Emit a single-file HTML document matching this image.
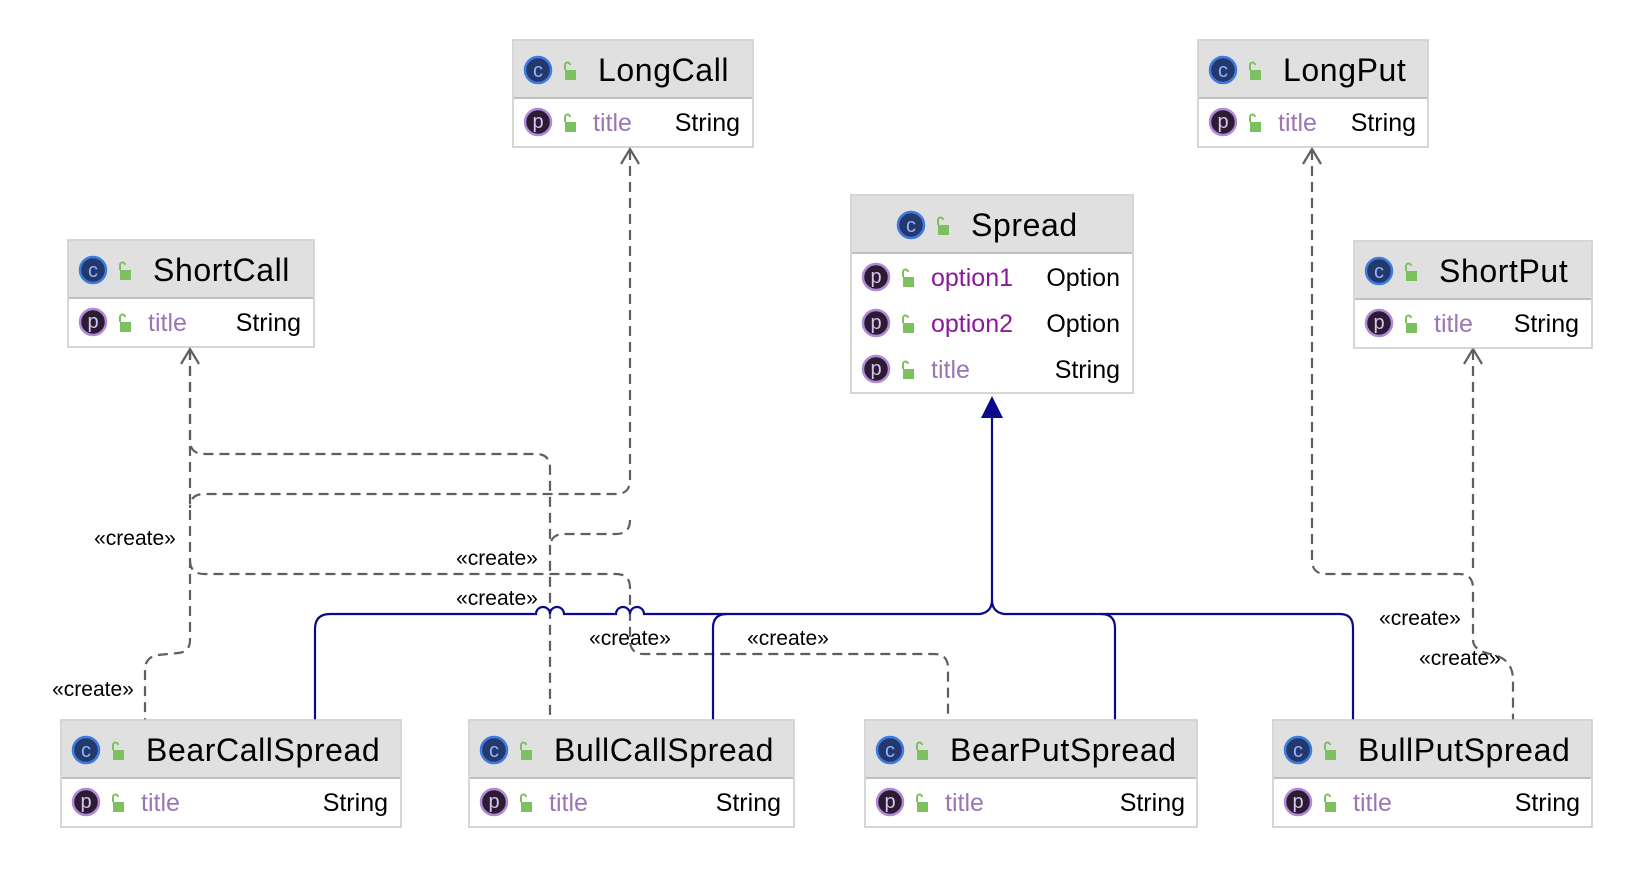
<!DOCTYPE html>
<html><head><meta charset="utf-8"><style>
html,body{margin:0;padding:0;background:#fff;}
svg{display:block;font-family:"Liberation Sans","DejaVu Sans",sans-serif;}
.hdr{font-size:32px;fill:#000;letter-spacing:0.6px;}
.fn{font-size:25px;fill:#9a76b3;}
.fo{font-size:25px;fill:#8b1a9b;}
.ty{font-size:25px;fill:#000;}
.cr{font-size:21px;fill:#000;}
.d{fill:none;stroke:#5f5f5f;stroke-width:2.2;stroke-dasharray:10 6;}
.b{fill:none;stroke:#0a0a8c;stroke-width:2.2;}
</style></head><body>
<svg width="1630" height="874" viewBox="0 0 1630 874" xmlns="http://www.w3.org/2000/svg">
<defs>
<g id="ci"><circle r="13" fill="#24386b" stroke="#3d7be0" stroke-width="2.5"/><text x="0" y="7" text-anchor="middle" font-size="20" fill="#8fb4ff">c</text></g>
<g id="pi"><circle r="13" fill="#2c1c33" stroke="#b08ad8" stroke-width="2.5"/><text x="0" y="6" text-anchor="middle" font-size="20" fill="#d8c3ef">p</text></g>
<g id="lk"><rect x="-3" y="-2" width="11" height="10" fill="#7cc05f"/><path d="M-3,-2 v-5 a2.5,2.5 0 0 1 5,0" fill="none" stroke="#7cc05f" stroke-width="2"/></g>
</defs>

<g class="d">
<path d="M190,350 V440 Q190,454 204,454 H536 Q550,454 550,468 V720"/>
<path d="M630,150 V480 Q630,494 616,494 H204 Q190,494 190,508"/>
<path d="M630,520 Q630,534 616,534 H564 Q550,534 550,548"/>
<path d="M190,560 Q190,574 204,574 H616 Q630,574 630,588 V640 Q630,654 644,654 H934 Q948,654 948,668 V720"/>
<path d="M190,350 V640 Q190,652 178,653 L158,655 Q145,657 145,670 V720"/>
<path d="M1312,150 V560 Q1312,574 1326,574 H1459 Q1473,574 1473,588 V640 Q1473,650 1490,654 Q1513,658 1513,680 V720"/>
<path d="M1473,350 V574"/>
</g>
<g fill="none" stroke="#5f5f5f" stroke-width="2.2">
<path d="M181,364 L190,349 L199,364"/>
<path d="M621,164 L630,149 L639,164"/>
<path d="M1303,164 L1312,149 L1321,164"/>
<path d="M1464,364 L1473,349 L1482,364"/>
</g>

<g class="b">
<path d="M992,412 V600 Q992,612 980,614 H644 A7,7 0 0 0 630,614 A7,7 0 0 0 616,614 H564 A7,7 0 0 0 550,614 A7,7 0 0 0 536,614 H330 Q315,614 315,629 V720"/>
<path d="M992,600 Q992,612 1004,614 H1340 Q1353,614 1353,628 V720"/>
<path d="M727,614 Q713,614 713,628 V720"/>
<path d="M1101,614 Q1115,614 1115,628 V720"/>
</g>
<path d="M981,418 L992,396 L1003,418 Z" fill="#0a0a8c"/>

<g class="cr" text-anchor="middle">
<text x="135" y="545">«create»</text>
<text x="93" y="696">«create»</text>
<text x="497" y="565">«create»</text>
<text x="497" y="605">«create»</text>
<text x="630" y="645">«create»</text>
<text x="788" y="645">«create»</text>
<text x="1420" y="625">«create»</text>
<text x="1460" y="665">«create»</text>
</g>

<g transform="translate(513,40)">
<rect x="0" y="0" width="240" height="107" fill="#fff" stroke="#c8c8c8" stroke-width="1.5"/>
<rect x="1" y="1" width="238" height="57" fill="#e0e0e0"/><rect x="1" y="57" width="238" height="2" fill="#c0c0c0"/>
<use href="#ci" x="25" y="30"/><use href="#lk" x="55" y="32"/><text class="hdr" x="85" y="41">LongCall</text>
<use href="#pi" x="25" y="82"/><use href="#lk" x="55" y="84"/><text class="fn" x="80" y="91">title</text><text class="ty" x="227" y="91" text-anchor="end">String</text>
</g>
<g transform="translate(1198,40)">
<rect x="0" y="0" width="230" height="107" fill="#fff" stroke="#c8c8c8" stroke-width="1.5"/>
<rect x="1" y="1" width="228" height="57" fill="#e0e0e0"/><rect x="1" y="57" width="228" height="2" fill="#c0c0c0"/>
<use href="#ci" x="25" y="30"/><use href="#lk" x="55" y="32"/><text class="hdr" x="85" y="41">LongPut</text>
<use href="#pi" x="25" y="82"/><use href="#lk" x="55" y="84"/><text class="fn" x="80" y="91">title</text><text class="ty" x="218" y="91" text-anchor="end">String</text>
</g>
<g transform="translate(68,240)">
<rect x="0" y="0" width="246" height="107" fill="#fff" stroke="#c8c8c8" stroke-width="1.5"/>
<rect x="1" y="1" width="244" height="57" fill="#e0e0e0"/><rect x="1" y="57" width="244" height="2" fill="#c0c0c0"/>
<use href="#ci" x="25" y="30"/><use href="#lk" x="55" y="32"/><text class="hdr" x="85" y="41">ShortCall</text>
<use href="#pi" x="25" y="82"/><use href="#lk" x="55" y="84"/><text class="fn" x="80" y="91">title</text><text class="ty" x="233" y="91" text-anchor="end">String</text>
</g>
<g transform="translate(1354,241)">
<rect x="0" y="0" width="238" height="107" fill="#fff" stroke="#c8c8c8" stroke-width="1.5"/>
<rect x="1" y="1" width="236" height="57" fill="#e0e0e0"/><rect x="1" y="57" width="236" height="2" fill="#c0c0c0"/>
<use href="#ci" x="25" y="30"/><use href="#lk" x="55" y="32"/><text class="hdr" x="85" y="41">ShortPut</text>
<use href="#pi" x="25" y="82"/><use href="#lk" x="55" y="84"/><text class="fn" x="80" y="91">title</text><text class="ty" x="225" y="91" text-anchor="end">String</text>
</g>
<g transform="translate(851,195)">
<rect x="0" y="0" width="282" height="198" fill="#fff" stroke="#c8c8c8" stroke-width="1.5"/>
<rect x="1" y="1" width="280" height="57" fill="#e0e0e0"/><rect x="1" y="57" width="280" height="2" fill="#c0c0c0"/>
<use href="#ci" x="60" y="30"/><use href="#lk" x="90" y="32"/><text class="hdr" x="120" y="41">Spread</text>
<use href="#pi" x="25" y="82"/><use href="#lk" x="55" y="84"/><text class="fo" x="80" y="91">option1</text><text class="ty" x="269" y="91" text-anchor="end">Option</text>
<use href="#pi" x="25" y="128"/><use href="#lk" x="55" y="130"/><text class="fo" x="80" y="137">option2</text><text class="ty" x="269" y="137" text-anchor="end">Option</text>
<use href="#pi" x="25" y="174"/><use href="#lk" x="55" y="176"/><text class="fn" x="80" y="183">title</text><text class="ty" x="269" y="183" text-anchor="end">String</text>
</g>
<g transform="translate(61,720)">
<rect x="0" y="0" width="340" height="107" fill="#fff" stroke="#c8c8c8" stroke-width="1.5"/>
<rect x="1" y="1" width="338" height="57" fill="#e0e0e0"/><rect x="1" y="57" width="338" height="2" fill="#c0c0c0"/>
<use href="#ci" x="25" y="30"/><use href="#lk" x="55" y="32"/><text class="hdr" x="85" y="41">BearCallSpread</text>
<use href="#pi" x="25" y="82"/><use href="#lk" x="55" y="84"/><text class="fn" x="80" y="91">title</text><text class="ty" x="327" y="91" text-anchor="end">String</text>
</g>
<g transform="translate(469,720)">
<rect x="0" y="0" width="325" height="107" fill="#fff" stroke="#c8c8c8" stroke-width="1.5"/>
<rect x="1" y="1" width="323" height="57" fill="#e0e0e0"/><rect x="1" y="57" width="323" height="2" fill="#c0c0c0"/>
<use href="#ci" x="25" y="30"/><use href="#lk" x="55" y="32"/><text class="hdr" x="85" y="41">BullCallSpread</text>
<use href="#pi" x="25" y="82"/><use href="#lk" x="55" y="84"/><text class="fn" x="80" y="91">title</text><text class="ty" x="312" y="91" text-anchor="end">String</text>
</g>
<g transform="translate(865,720)">
<rect x="0" y="0" width="332" height="107" fill="#fff" stroke="#c8c8c8" stroke-width="1.5"/>
<rect x="1" y="1" width="330" height="57" fill="#e0e0e0"/><rect x="1" y="57" width="330" height="2" fill="#c0c0c0"/>
<use href="#ci" x="25" y="30"/><use href="#lk" x="55" y="32"/><text class="hdr" x="85" y="41">BearPutSpread</text>
<use href="#pi" x="25" y="82"/><use href="#lk" x="55" y="84"/><text class="fn" x="80" y="91">title</text><text class="ty" x="320" y="91" text-anchor="end">String</text>
</g>
<g transform="translate(1273,720)">
<rect x="0" y="0" width="319" height="107" fill="#fff" stroke="#c8c8c8" stroke-width="1.5"/>
<rect x="1" y="1" width="317" height="57" fill="#e0e0e0"/><rect x="1" y="57" width="317" height="2" fill="#c0c0c0"/>
<use href="#ci" x="25" y="30"/><use href="#lk" x="55" y="32"/><text class="hdr" x="85" y="41">BullPutSpread</text>
<use href="#pi" x="25" y="82"/><use href="#lk" x="55" y="84"/><text class="fn" x="80" y="91">title</text><text class="ty" x="307" y="91" text-anchor="end">String</text>
</g>
</svg>
</body></html>
